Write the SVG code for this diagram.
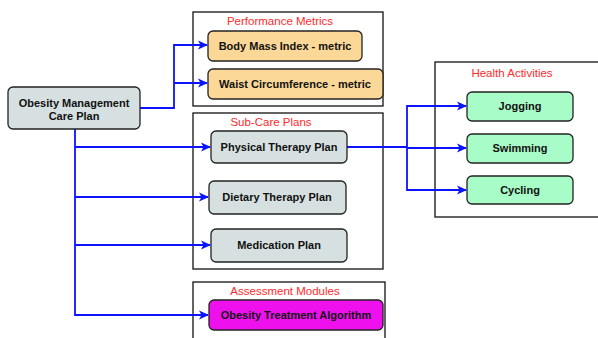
<svg xmlns="http://www.w3.org/2000/svg" width="598" height="338" viewBox="0 0 598 338">
<style>
.cont{fill:#fff;stroke:#111;stroke-width:1.3}
.ctitle{font-family:"Liberation Sans",Arial,sans-serif;font-size:11.5px;fill:#ff2a2a;text-anchor:middle}
.node{stroke:#222;stroke-width:1.3}
.lbl{font-family:"Liberation Sans",Arial,sans-serif;font-weight:bold;font-size:11px;fill:#111;text-anchor:middle}
.gray{fill:#d6e0e0}
.orange{fill:#fcd898}
.mag{fill:#ee11ee}
.green{fill:#a8fcc8}
.conn{fill:none;stroke:#0a14ff;stroke-width:1.8}
</style>
<defs>
<marker id="arr" markerWidth="10" markerHeight="10" refX="9" refY="5" orient="auto" markerUnits="userSpaceOnUse">
<path d="M0,0.5 L10,5 L0,9.5 L2.5,5 Z" fill="#0a14ff"/>
</marker>
</defs>
<g id="containers">
<rect class="cont" x="193" y="12" width="190" height="94"/>
<text class="ctitle" x="280" y="25">Performance Metrics</text>
<rect class="cont" x="193" y="113" width="190" height="156"/>
<text class="ctitle" x="271" y="126">Sub-Care Plans</text>
<rect class="cont" x="193" y="282" width="192" height="60"/>
<text class="ctitle" x="285" y="295">Assessment Modules</text>
<rect class="cont" x="435" y="62" width="165" height="155"/>
<text class="ctitle" x="512" y="77">Health Activities</text>
</g>
<g id="connectors">
<path class="conn" d="M140,108 H174 V45 H207" marker-end="url(#arr)"/>
<path class="conn" d="M174,83 H207" marker-end="url(#arr)"/>
<path class="conn" d="M75,129 V315 H208" marker-end="url(#arr)"/>
<path class="conn" d="M75,147 H210" marker-end="url(#arr)"/>
<path class="conn" d="M75,197 H208" marker-end="url(#arr)"/>
<path class="conn" d="M75,245 H210" marker-end="url(#arr)"/>
<path class="conn" d="M347,147 H407 V106 H466" marker-end="url(#arr)"/>
<path class="conn" d="M407,148 H466" marker-end="url(#arr)"/>
<path class="conn" d="M407,148 V190 H466" marker-end="url(#arr)"/>
</g>
<g id="main">
<rect class="node gray" x="8" y="87" width="132" height="42" rx="5"/>
<text class="lbl" x="74" y="107">Obesity Management</text>
<text class="lbl" x="74" y="120">Care Plan</text>
</g>
<g id="bmi">
<rect class="node orange" x="208" y="31" width="154" height="30" rx="5"/>
<text class="lbl" x="285" y="50">Body Mass Index - metric</text>
</g>
<g id="waist">
<rect class="node orange" x="208" y="69" width="175" height="30" rx="5"/>
<text class="lbl" x="295" y="88">Waist Circumference - metric</text>
</g>
<g id="physical">
<rect class="node gray" x="211" y="131" width="136" height="32" rx="5"/>
<text class="lbl" x="279" y="151">Physical Therapy Plan</text>
</g>
<g id="dietary">
<rect class="node gray" x="209" y="181" width="137" height="33" rx="5"/>
<text class="lbl" x="277" y="201">Dietary Therapy Plan</text>
</g>
<g id="medication">
<rect class="node gray" x="211" y="229" width="136" height="33" rx="5"/>
<text class="lbl" x="279" y="249">Medication Plan</text>
</g>
<g id="algorithm">
<rect class="node mag" x="209" y="300" width="174" height="30" rx="5"/>
<text class="lbl" x="296" y="319">Obesity Treatment Algorithm</text>
</g>
<g id="jogging">
<rect class="node green" x="467" y="92" width="106" height="29" rx="5"/>
<text class="lbl" x="520" y="110">Jogging</text>
</g>
<g id="swimming">
<rect class="node green" x="467" y="134" width="106" height="29" rx="5"/>
<text class="lbl" x="520" y="152">Swimming</text>
</g>
<g id="cycling">
<rect class="node green" x="467" y="176" width="106" height="28" rx="5"/>
<text class="lbl" x="520" y="194">Cycling</text>
</g>
</svg>
